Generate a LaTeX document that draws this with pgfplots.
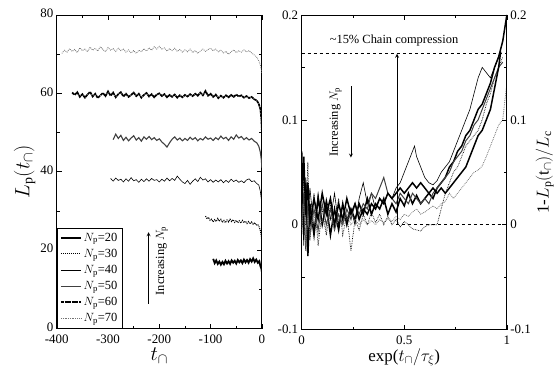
\documentclass[border=0pt]{standalone}
\usepackage{fontspec}
\setmainfont{Liberation Serif}
\usepackage{pgfplots}
\pgfplotsset{compat=1.18}
\begin{document}
\begin{tikzpicture}
\pgfplotsset{
  every axis/.append style={
    scale only axis,
    axis line style={black, line width=0.8pt},
    tick style={black, line width=0.6pt},
    major tick length=5pt, minor tick length=3pt,
    tick label style={font=\fontsize{13}{15}\selectfont},
    xticklabel style={yshift=-2.5pt},
    /pgf/number format/assume math mode=true,
  },
}
% ---------------- left panel ----------------
\begin{axis}[
  at={(57pt,40pt)}, anchor=south west,
  width=206pt, height=315pt,
  xmin=-400, xmax=0, ymin=0, ymax=80,
  xtick={-400,-300,-200,-100,0}, ytick={0,20,40,60,80},
  yticklabel style={yshift=1.5pt},
  minor x tick num=1, minor y tick num=1,
  xlabel={$t_\cap$}, ylabel={$L_\mathrm{p}(t_\cap)$},
  xlabel style={font=\fontsize{20}{22}\selectfont, yshift=2pt},
  ylabel style={font=\fontsize{20}{22}\selectfont, yshift=-2pt},
  legend style={at={(0,0)}, anchor=south west, draw=black, line width=0.6pt,
    font=\fontsize{12.5}{14}\selectfont, row sep=2.4pt, inner sep=3pt},
  legend cell align=left,
  legend image code/.code={\draw[#1] (0pt,0pt) -- (20pt,0pt);},
]
\addplot[black, line width=1.8pt] coordinates {
(-95,17.8) (-92,16.7) (-89,17.4) (-86,16.5) (-83,17.1) (-80,16.3) (-77,17.0) (-74,16.4) (-71,17.3) (-68,16.6) (-65,17.2) (-62,16.5) (-59,17.4) (-56,16.8) (-53,17.3) (-50,16.6) (-47,17.5) (-44,16.9) (-41,17.4) (-38,16.7) (-35,17.6) (-32,16.9) (-29,17.5) (-26,16.8) (-23,17.7) (-20,17.1) (-17,17.9) (-14,17.0) (-11,17.6) (-8,16.8) (-5,17.2) (-3,16.0) (-1,15.3) (0,14.5)};
\addlegendentry{$N_\mathrm{p}$=20}
\addplot[black, line width=1.0pt, densely dotted] coordinates {
(-110,28.7) (-107,28.0) (-104,28.4) (-101,27.6) (-98,27.9) (-95,27.2) (-92,27.8) (-89,27.3) (-86,28.1) (-83,27.4) (-80,27.9) (-77,27.1) (-74,27.6) (-71,27.0) (-68,27.7) (-65,27.2) (-62,27.9) (-59,27.3) (-56,27.8) (-53,27.1) (-50,27.6) (-47,27.0) (-44,27.5) (-41,26.9) (-38,27.6) (-35,27.0) (-32,27.4) (-29,26.8) (-26,27.3) (-23,26.7) (-20,27.2) (-17,26.6) (-14,27.0) (-11,26.4) (-8,26.6) (-5,25.8) (-3,25.0) (-1,23.5) (0,21.5)};
\addlegendentry{$N_\mathrm{p}$=30}
\addplot[black, line width=0.6pt] coordinates {
(-295,38.3) (-290,37.6) (-285,38.4) (-280,37.8) (-275,38.1) (-270,37.4) (-265,38.2) (-260,37.6) (-255,38.5) (-250,37.7) (-245,38.0) (-240,37.3) (-235,38.1) (-230,37.5) (-225,38.2) (-220,37.6) (-215,38.3) (-210,37.8) (-205,38.0) (-200,37.4) (-195,38.1) (-190,37.6) (-185,38.4) (-180,37.7) (-175,38.3) (-170,37.8) (-165,38.9) (-160,38.1) (-155,37.4) (-150,37.0) (-145,37.8) (-140,36.8) (-135,37.6) (-130,38.2) (-125,37.5) (-120,38.6) (-115,37.9) (-110,38.2) (-105,37.4) (-100,38.0) (-95,37.3) (-90,37.9) (-85,37.4) (-80,38.0) (-75,37.2) (-70,37.8) (-65,37.3) (-60,38.1) (-55,37.5) (-50,37.9) (-45,37.3) (-40,37.7) (-35,37.2) (-30,37.9) (-25,38.2) (-20,37.5) (-15,37.7) (-10,37.0) (-6,36.6) (-3,35.0) (-1,33.0) (0,30.5)};
\addlegendentry{$N_\mathrm{p}$=40}
\addplot[black!75, line width=1.1pt] coordinates {
(-290,48.2) (-285,49.6) (-280,48.5) (-275,49.3) (-270,48.0) (-265,48.8) (-260,47.9) (-255,48.6) (-250,49.2) (-245,48.1) (-240,48.7) (-235,47.8) (-230,48.9) (-225,48.3) (-220,49.0) (-215,48.2) (-210,48.7) (-205,48.0) (-200,48.4) (-195,47.6) (-190,47.0) (-185,46.3) (-180,47.4) (-175,48.3) (-170,48.9) (-165,48.1) (-160,48.6) (-155,47.9) (-150,48.5) (-145,48.0) (-140,48.8) (-135,48.2) (-130,48.7) (-125,47.9) (-120,48.5) (-115,48.1) (-110,48.9) (-105,48.3) (-100,48.6) (-95,48.0) (-90,48.7) (-85,48.2) (-80,49.1) (-75,48.4) (-70,48.8) (-65,48.0) (-60,48.9) (-55,48.3) (-50,49.4) (-45,48.6) (-40,49.0) (-35,48.2) (-30,48.7) (-25,48.1) (-20,48.5) (-15,47.8) (-10,47.4) (-6,46.5) (-3,45.0) (-1,43.0) (0,41.0)};
\addlegendentry{$N_\mathrm{p}$=50}
\addplot[black, line width=1.7pt, dash pattern=on 3pt off 0.6pt] coordinates {
(-370,60.2) (-365,59.6) (-360,60.3) (-355,59.1) (-350,59.8) (-345,58.9) (-340,59.7) (-335,60.4) (-330,59.2) (-325,59.9) (-320,58.8) (-315,59.5) (-310,60.1) (-305,59.3) (-300,60.5) (-295,59.4) (-290,60.2) (-285,59.0) (-280,59.8) (-275,60.3) (-270,59.2) (-265,59.9) (-260,59.1) (-255,59.6) (-250,60.2) (-245,59.3) (-240,59.9) (-235,58.9) (-230,59.6) (-225,60.1) (-220,59.2) (-215,59.8) (-210,59.0) (-205,59.7) (-200,60.0) (-195,59.3) (-190,59.8) (-185,59.0) (-180,59.6) (-175,59.1) (-170,59.7) (-165,58.9) (-160,59.5) (-155,59.0) (-150,59.6) (-145,59.2) (-140,59.8) (-135,59.3) (-130,59.9) (-125,59.4) (-120,60.2) (-115,59.5) (-110,60.6) (-105,59.4) (-100,59.9) (-95,59.1) (-90,59.7) (-85,58.8) (-80,59.4) (-75,58.9) (-70,59.5) (-65,59.0) (-60,59.6) (-55,59.1) (-50,59.7) (-45,59.2) (-40,59.5) (-35,58.9) (-30,59.3) (-25,58.8) (-20,59.1) (-15,58.5) (-10,58.2) (-6,57.3) (-3,56.0) (-1,53.5) (0,50.5)};
\addlegendentry{$N_\mathrm{p}$=60}
\addplot[black!55, line width=0.8pt, densely dotted] coordinates {
(-390,70.2) (-385,71.0) (-380,70.5) (-375,71.4) (-370,70.7) (-365,71.2) (-360,70.4) (-355,71.6) (-350,70.9) (-345,71.3) (-340,70.6) (-335,71.8) (-330,71.0) (-325,71.5) (-320,70.8) (-315,71.9) (-310,71.2) (-305,70.6) (-300,71.7) (-295,71.0) (-290,71.4) (-285,70.7) (-280,71.5) (-275,70.9) (-270,71.3) (-265,70.5) (-260,71.1) (-255,70.3) (-250,70.9) (-245,70.2) (-240,71.0) (-235,70.6) (-230,71.4) (-225,70.8) (-220,71.6) (-215,71.0) (-210,71.9) (-205,71.3) (-200,72.0) (-195,71.2) (-190,71.6) (-185,70.8) (-180,71.4) (-175,70.9) (-170,71.5) (-165,70.7) (-160,71.2) (-155,70.5) (-150,71.1) (-145,70.6) (-140,71.3) (-135,70.4) (-130,70.9) (-125,70.2) (-120,70.8) (-115,71.3) (-110,70.7) (-105,71.2) (-100,71.5) (-95,70.9) (-90,71.3) (-85,70.6) (-80,71.0) (-75,70.3) (-70,70.7) (-65,70.0) (-60,70.6) (-55,71.1) (-50,70.4) (-45,70.9) (-40,70.5) (-35,71.1) (-30,70.6) (-25,70.9) (-20,70.3) (-15,69.8) (-10,69.2) (-6,68.3) (-3,67.2) (-1,66.0) (0,65.0)};
\addlegendentry{$N_\mathrm{p}$=70}
\draw[-stealth, line width=0.8pt] (axis cs:-221,6.3) -- (axis cs:-221,24.6);
\node[rotate=90, anchor=center, font=\fontsize{12.5}{14}\selectfont] at (axis cs:-195,17.3) {Increasing $N_\mathrm{p}$};
\end{axis}
% ---------------- right panel ----------------
\begin{axis}[
  at={(303pt,39pt)}, anchor=south west,
  width=206pt, height=316pt,
  xmin=0, xmax=1, ymin=-0.1, ymax=0.2,
  xtick={0,0.5,1}, ytick={-0.1,0,0.1,0.2},
  minor x tick num=1, minor y tick num=1,
  yticklabel style={/pgf/number format/fixed},
  xticklabel style={/pgf/number format/fixed},
  xlabel={exp($t_\cap/\tau_\xi$)},
  xlabel style={font=\fontsize{17}{19}\selectfont, yshift=3pt},
]
\addplot[black, line width=1.5pt] coordinates {
(0,0.07) (0.01,-0.01) (0.02,0.04) (0.03,-0.03) (0.04,0.02) (0.06,-0.01) (0.08,0.025) (0.10,0.0) (0.12,0.02) (0.14,-0.01) (0.16,0.015) (0.18,-0.005) (0.20,0.02) (0.22,0.0) (0.24,0.015) (0.26,0.005) (0.28,0.02) (0.30,0.01) (0.32,0.025) (0.34,0.01) (0.36,0.02) (0.38,0.015) (0.40,0.025) (0.42,0.01) (0.44,0.02) (0.46,0.012) (0.48,0.025) (0.50,0.018) (0.52,0.03) (0.54,0.02) (0.56,0.028) (0.58,0.02) (0.60,0.025) (0.62,0.03) (0.64,0.025) (0.66,0.035) (0.68,0.04) (0.70,0.045) (0.72,0.055) (0.74,0.06) (0.76,0.07) (0.78,0.075) (0.80,0.085) (0.82,0.09) (0.84,0.1) (0.86,0.11) (0.88,0.115) (0.90,0.125) (0.92,0.135) (0.94,0.15) (0.96,0.16) (0.98,0.175) (1.0,0.2)};
\addplot[black, line width=0.7pt, densely dotted] coordinates {
(0,-0.01) (0.01,0.05) (0.02,0.0) (0.03,0.06) (0.04,-0.015) (0.06,0.03) (0.08,-0.02) (0.10,0.015) (0.12,-0.01) (0.14,0.02) (0.16,0.0) (0.18,0.025) (0.20,-0.01) (0.22,0.01) (0.24,-0.025) (0.26,0.005) (0.28,-0.005) (0.30,0.01) (0.32,0.0) (0.34,0.012) (0.36,0.002) (0.38,0.01) (0.40,0.0) (0.42,0.008) (0.44,0.0) (0.46,0.005) (0.48,-0.002) (0.50,0.003) (0.52,0.0) (0.54,-0.004) (0.56,-0.005) (0.58,-0.006) (0.60,-0.002) (0.62,0.0) (0.64,0.0) (0.66,0.0) (0.68,0.015) (0.70,0.03) (0.72,0.04) (0.74,0.05) (0.76,0.055) (0.78,0.065) (0.80,0.075) (0.82,0.08) (0.84,0.085) (0.86,0.09) (0.88,0.1) (0.90,0.115) (0.92,0.125) (0.94,0.14) (0.96,0.15) (0.98,0.16)};
\addplot[black, line width=0.6pt] coordinates {
(0,0.03) (0.01,-0.02) (0.02,0.045) (0.03,0.005) (0.04,0.035) (0.06,-0.005) (0.08,0.03) (0.10,0.0) (0.12,0.025) (0.14,0.005) (0.16,0.03) (0.18,0.0) (0.20,0.02) (0.22,0.005) (0.24,0.015) (0.26,0.0) (0.28,0.025) (0.30,0.04) (0.32,0.02) (0.34,0.03) (0.36,0.015) (0.38,0.025) (0.40,0.02) (0.42,0.03) (0.44,0.025) (0.46,0.035) (0.48,0.04) (0.50,0.05) (0.52,0.06) (0.54,0.07) (0.55,0.075) (0.56,0.065) (0.58,0.055) (0.60,0.045) (0.62,0.04) (0.64,0.038) (0.66,0.042) (0.68,0.05) (0.70,0.055) (0.72,0.06) (0.74,0.07) (0.76,0.08) (0.78,0.09) (0.80,0.1) (0.82,0.11) (0.84,0.125) (0.86,0.14) (0.88,0.15) (0.90,0.145) (0.92,0.14) (0.94,0.15) (0.96,0.16) (0.97,0.165)};
\addplot[black!75, line width=1.0pt] coordinates {
(0,0.0) (0.01,0.03) (0.02,-0.025) (0.03,0.02) (0.04,-0.01) (0.06,0.015) (0.08,-0.005) (0.10,0.02) (0.12,0.0) (0.14,0.015) (0.16,-0.005) (0.18,0.01) (0.20,0.0) (0.22,0.015) (0.24,0.005) (0.26,0.02) (0.28,0.01) (0.30,0.02) (0.32,0.015) (0.34,0.03) (0.36,0.025) (0.38,0.035) (0.40,0.045) (0.42,0.03) (0.44,0.025) (0.46,0.02) (0.48,0.03) (0.50,0.025) (0.52,0.02) (0.54,0.03) (0.56,0.025) (0.58,0.02) (0.60,0.025) (0.62,0.02) (0.64,0.03) (0.66,0.035) (0.68,0.04) (0.70,0.045) (0.72,0.05) (0.74,0.06) (0.76,0.065) (0.78,0.07) (0.80,0.08) (0.82,0.085) (0.84,0.095) (0.86,0.1) (0.88,0.11) (0.90,0.12) (0.92,0.13) (0.94,0.14) (0.96,0.15) (0.98,0.155)};
\addplot[black, line width=1.5pt] coordinates {
(0,0.02) (0.01,0.065) (0.02,0.01) (0.03,0.04) (0.04,0.0) (0.06,0.025) (0.08,0.005) (0.10,0.03) (0.12,0.01) (0.14,0.025) (0.16,0.0) (0.18,0.02) (0.20,0.005) (0.22,0.025) (0.24,0.01) (0.26,0.02) (0.28,0.005) (0.30,0.015) (0.32,0.01) (0.34,0.02) (0.36,0.015) (0.38,0.025) (0.40,0.02) (0.42,0.03) (0.44,0.025) (0.46,0.03) (0.48,0.035) (0.50,0.03) (0.52,0.035) (0.54,0.04) (0.56,0.035) (0.58,0.04) (0.60,0.035) (0.62,0.03) (0.64,0.035) (0.66,0.03) (0.68,0.035) (0.70,0.03) (0.72,0.035) (0.74,0.04) (0.76,0.045) (0.78,0.05) (0.80,0.055) (0.82,0.065) (0.84,0.075) (0.86,0.085) (0.88,0.09) (0.90,0.1) (0.92,0.11) (0.94,0.13) (0.96,0.15) (0.97,0.165)};
\addplot[black!55, line width=0.8pt, densely dotted] coordinates {
(0,-0.005) (0.01,0.02) (0.02,-0.02) (0.03,0.01) (0.04,-0.01) (0.06,0.01) (0.08,-0.01) (0.10,0.005) (0.12,-0.005) (0.14,0.01) (0.16,-0.005) (0.18,0.005) (0.20,0.0) (0.22,0.01) (0.24,0.0) (0.26,0.005) (0.28,0.0) (0.30,0.005) (0.32,0.0) (0.34,0.004) (0.36,0.0) (0.38,0.005) (0.40,0.002) (0.42,0.006) (0.44,0.003) (0.46,0.008) (0.48,0.005) (0.50,0.01) (0.52,0.008) (0.54,0.012) (0.56,0.015) (0.58,0.01) (0.60,0.012) (0.62,0.015) (0.64,0.018) (0.66,0.015) (0.68,0.02) (0.70,0.022) (0.72,0.03) (0.74,0.025) (0.76,0.03) (0.78,0.035) (0.80,0.04) (0.82,0.045) (0.84,0.05) (0.86,0.052) (0.88,0.056) (0.90,0.065) (0.92,0.075) (0.94,0.085) (0.96,0.095) (0.98,0.1) (1.0,0.135)};
\draw[dashed, line width=0.8pt] (axis cs:0,0.163) -- (axis cs:1,0.163);
\draw[dashed, line width=0.8pt] (axis cs:0.46,0) -- (axis cs:1,0);
\draw[-stealth, line width=0.8pt] (axis cs:0.465,0) -- (axis cs:0.465,0.163);
\draw[-stealth, line width=0.8pt] (axis cs:0.24,0.132) -- (axis cs:0.24,0.064);
\node[rotate=90, font=\fontsize{12.5}{14}\selectfont] at (axis cs:0.165,0.098) {Increasing $N_\mathrm{p}$};
\node[font=\fontsize{12.5}{14}\selectfont] at (axis cs:0.45,0.176) {\textasciitilde15\% Chain compression};
\end{axis}
\begin{axis}[
  at={(303pt,39pt)}, anchor=south west,
  width=206pt, height=316pt,
  xmin=0, xmax=1, ymin=-0.1, ymax=0.2,
  hide x axis, axis y line*=right,
  ytick={-0.1,0,0.1,0.2}, minor y tick num=1,
  yticklabel style={/pgf/number format/fixed},
  ylabel={1-$L_\mathrm{p}(\mathrm{t}_\cap)/L_\mathrm{c}$},
  ylabel style={font=\fontsize{17}{19}\selectfont, yshift=2pt},
]
\end{axis}
\useasboundingbox (0pt,0pt) rectangle (557pt,370pt);
\end{tikzpicture}
\end{document}
